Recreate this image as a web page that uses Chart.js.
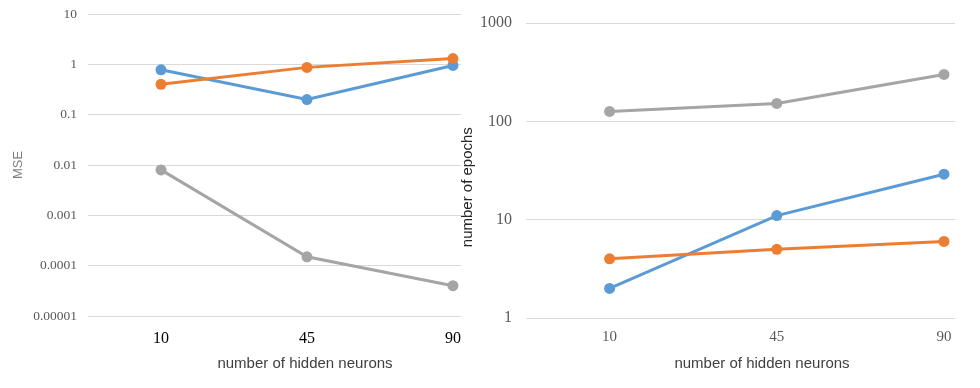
<!DOCTYPE HTML>
<html lang="en">
<head>
<meta charset="UTF-8">
<title>MSE and epochs vs hidden neurons</title>
<script src="https://cdn.jsdelivr.net/npm/chart.js@4/dist/chart.umd.min.js"></script>
<style>
  body { margin: 0; background: #fff; }
  .clip { position: absolute; top: 0; height: 388px; overflow: hidden; }
</style>
</head>
<body>
<!-- 左右2枚のグラフ（どちらも右端が切れている） -->
<div class="clip" style="left:459px; width:496px; background:#fff;">
  <div style="width:545px; height:388px;"><canvas id="epochs"></canvas></div>
</div>
<div class="clip" style="left:0; width:461px;">
  <div style="width:530px; height:388px;"><canvas id="mse"></canvas></div>
</div>

<script>
// データ
var neurons = ['10', '45', '90'];

var mseTicks = [0.00001, 0.0001, 0.001, 0.01, 0.1, 1, 10];
var mseTickLabels = ['0.00001', '0.0001', '0.001', '0.01', '0.1', '1', '10'];
var mseBlue = [0.78, 0.2, 0.95];
var mseOrange = [0.4, 0.87, 1.3];
var mseGray = [0.008, 0.00015, 0.00004];

var epochTicks = [1, 10, 100, 1000];
var epochTickLabels = ['1', '10', '100', '1000'];
var epochBlue = [2, 11, 29];
var epochOrange = [4, 5, 6];
var epochGray = [126, 152, 300];

var BLUE = '#5b9bd5';
var ORANGE = '#ed7d31';
var GRAY = '#a5a5a5';

function series(values, color, order) {
  return {
    data: values.map(function(v, i) { return {x: i, y: v}; }),
    borderColor: color,
    backgroundColor: color,
    pointBackgroundColor: color,
    pointBorderColor: color,
    pointBorderWidth: 0,
    pointRadius: 5.5,
    pointHoverRadius: 5.5,
    borderWidth: 3,
    order: order,       // 後の系列を上に描く
    clip: false
  };
}

function makeChart(id, o) {
  new Chart(document.getElementById(id), {
    type: 'line',
    data: {
      datasets: [
        series(o.blue, BLUE, 3),
        series(o.orange, ORANGE, 2),
        series(o.gray, GRAY, 1)
      ]
    },
    options: {
      responsive: true,
      maintainAspectRatio: false,
      animation: false,
      events: [],
      layout: { padding: { top: o.top, right: o.right, left: 0, bottom: 0 } },
      plugins: { legend: { display: false }, tooltip: { enabled: false } },
      scales: {
        x: {
          type: 'linear',
          min: -0.5,
          max: o.xMax,
          afterBuildTicks: function(scale) {
            scale.ticks = neurons.map(function(n, i) { return {value: i}; });
          },
          afterFit: function(scale) { scale.height = o.xHeight; },
          grid: { display: false },
          border: { display: false },
          ticks: {
            autoSkip: false,
            maxRotation: 0,
            padding: o.xPad,
            color: o.xTickColor,
            font: { family: 'Liberation Serif', size: o.xTickSize },
            callback: function(v) { return neurons[v]; }
          },
          title: {
            display: true,
            text: 'number of hidden neurons',
            color: '#404040',
            font: { family: 'Liberation Sans', size: 15 },
            padding: { top: 0, bottom: 15 }
          }
        },
        y: {
          type: 'logarithmic',
          min: o.ticks[0],
          max: o.ticks[o.ticks.length - 1],
          afterBuildTicks: function(scale) {
            scale.ticks = o.ticks.map(function(t) { return {value: t}; });
          },
          afterFit: function(scale) {
            scale.width = o.yWidth;
            // ラベル余白が上端を押し下げないように
            scale.paddingTop = 0;
            scale.paddingBottom = 0;
          },
          grid: { color: '#d9d9d9', lineWidth: 1, drawTicks: false },
          border: { display: false },
          ticks: {
            padding: o.yPad,
            color: '#595959',
            font: { family: 'Liberation Serif', size: o.yTickSize },
            callback: function(v, i) { return o.tickLabels[i]; }
          },
          title: {
            display: true,
            text: o.yTitle,
            color: o.yTitleColor,
            font: { family: 'Liberation Sans', size: o.yTitleSize },
            padding: { top: o.yTitlePad, bottom: 0 }
          }
        }
      }
    }
  });
}

makeChart('mse', {
  blue: mseBlue, orange: mseOrange, gray: mseGray,
  ticks: mseTicks, tickLabels: mseTickLabels,
  top: 14, right: 8, xHeight: 72, xMax: 2.473, yWidth: 88, yPad: 11, xPad: 5,
  xTickColor: '#000000', xTickSize: 16, yTickSize: 13.5,
  yTitle: 'MSE', yTitleColor: '#7f7f7f', yTitleSize: 13, yTitlePad: 11
});

// 軸タイトルを少し下へずらすため末尾に空白
makeChart('epochs', {
  blue: epochBlue, orange: epochOrange, gray: epochGray,
  ticks: epochTicks, tickLabels: epochTickLabels,
  top: 23, right: 6, xHeight: 70, xMax: 2.323, yWidth: 67, yPad: 14, xPad: 2,
  xTickColor: '#595959', xTickSize: 15, yTickSize: 16,
  yTitle: 'number of epochs        ', yTitleColor: '#262626', yTitleSize: 15, yTitlePad: 0
});
</script>
</body>
</html>
